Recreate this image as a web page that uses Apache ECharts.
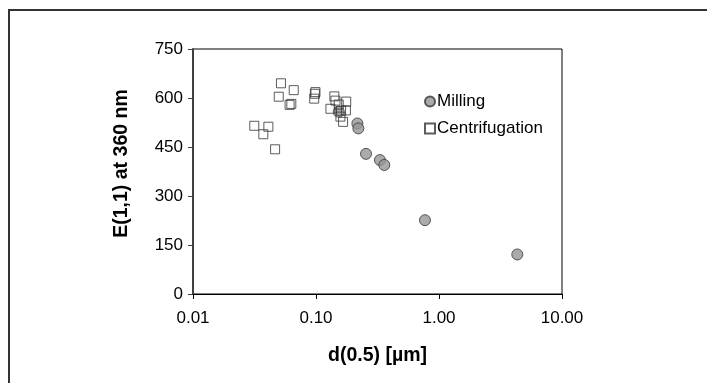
<!DOCTYPE html>
<html>
<head>
<meta charset="utf-8">
<title>E(1,1) vs d(0.5)</title>
<script src="https://cdn.jsdelivr.net/npm/echarts@6/dist/echarts.min.js"></script>
<style>
    html, body { margin: 0; padding: 0; background: #fff; }
    #chart { width: 707px; height: 383px; }
</style>
</head>
<body>
<div id="chart"></div>
<script>
// 数据：从原图上读出来的
let millingX = [0.153, 0.217, 0.221, 0.255, 0.331, 0.359, 0.769, 4.33];
let millingY = [558, 522, 507, 429, 410, 395, 226, 121];

let centX = [0.0519, 0.0659, 0.0498, 0.0610, 0.0630, 0.098, 0.099, 0.0967,
             0.0315, 0.0410, 0.0373, 0.0465,
             0.141, 0.131, 0.176, 0.153, 0.175, 0.160, 0.158, 0.166, 0.144];
let centY = [645, 624, 604, 579, 582, 613, 618, 598,
             515, 512, 489, 443,
             605, 567, 589, 580, 562, 561, 543, 527, 592];

let yTicks = [0, 150, 300, 450, 600, 750];
let xMin = 0.01, xMax = 10;

let font = 'Liberation Sans, Arial, sans-serif';

function pairs(xs, ys){
    let out = [];
    for (let i = 0; i < xs.length; i++) {
        out.push([xs[i], ys[i]]);
    }
    return out;
}

let myChart = echarts.init(document.getElementById('chart'), null, {renderer: 'canvas'});

let option = {
    backgroundColor: '#fff',
    animation: false,
    textStyle: { fontFamily: font },
    grid: {
        left: 193,
        right: 145,
        top: 49,
        bottom: 89,
        show: true,
        borderColor: '#000',
        borderWidth: 1,
        backgroundColor: 'transparent'
    },
    legend: {
        orient: 'vertical',
        left: 419,
        top: 88,
        itemGap: 10,
        itemWidth: 10,
        itemHeight: 10,
        textStyle: { fontFamily: font, fontSize: 17, color: '#000', padding: [0, 0, 0, -3] },
        data: ['Milling', 'Centrifugation']
    },
    xAxis: {
        type: 'log',
        logBase: 10,
        min: xMin,
        max: xMax,
        name: 'd(0.5) [µm]',
        nameLocation: 'middle',
        nameGap: 52,
        nameTextStyle: { fontFamily: font, fontSize: 19.5, fontWeight: 'bold', color: '#000' },
        axisLine: { show: true, onZero: false, lineStyle: { color: '#000', width: 1 } },
        axisTick: { show: true, inside: false, length: 5, lineStyle: { color: '#000' } },
        minorTick: { show: false },
        axisLabel: {
            margin: 16,
            fontFamily: font,
            fontSize: 17,
            color: '#000',
            formatter: function(v){ return Number(v).toFixed(2); }
        },
        splitLine: { show: false }
    },
    yAxis: {
        type: 'value',
        min: yTicks[0],
        max: yTicks[yTicks.length - 1],
        interval: 150,
        name: 'E(1,1) at 360 nm',
        nameLocation: 'middle',
        nameGap: 61,
        nameTextStyle: {
            fontFamily: font, fontSize: 19.5, fontWeight: 'bold', color: '#000',
            padding: [0, 0, 0, 16]  // 原图标题略偏上
        },
        axisLine: { show: true, lineStyle: { color: '#404040', width: 2 } },
        axisTick: { show: true, inside: false, length: 5, lineStyle: { color: '#404040' } },
        axisLabel: { margin: 10, fontFamily: font, fontSize: 17, color: '#000' },
        splitLine: { show: false }
    },
    series: [
        {
            name: 'Milling',
            type: 'scatter',
            symbol: 'circle',
            symbolSize: 11,
            itemStyle: { color: '#969696', borderColor: '#333', borderWidth: 1 },
            data: pairs(millingX, millingY),
            z: 2
        },
        {
            name: 'Centrifugation',
            type: 'scatter',
            symbol: 'rect',
            symbolSize: 9,
            itemStyle: { color: 'rgba(255,255,255,0)', borderColor: '#333', borderWidth: 1 },
            data: pairs(centX, centY),
            z: 3
        }
    ],
    graphic: [
        {
            // 外框
            type: 'polyline',
            shape: { points: [[9, 383], [9, 10], [707, 10]] },
            style: { stroke: '#333', lineWidth: 2, fill: null },
            silent: true
        }
    ]
};

myChart.setOption(option);
</script>
</body>
</html>
